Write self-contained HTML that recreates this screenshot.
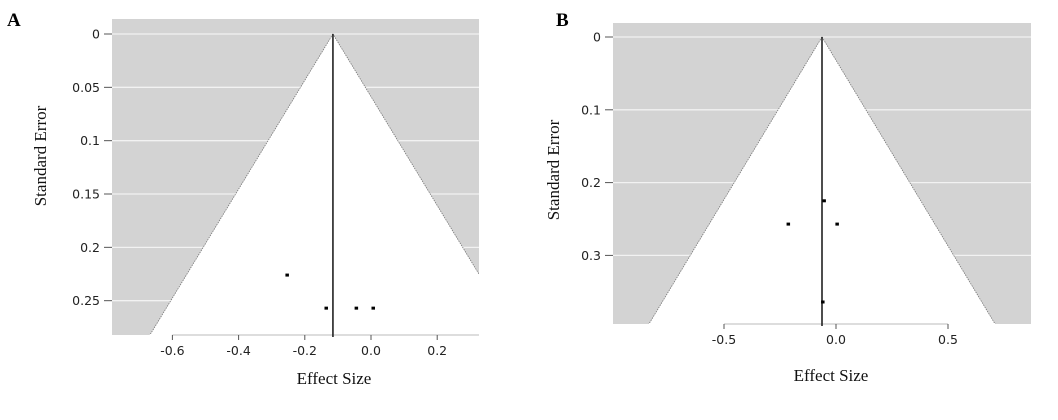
<!DOCTYPE html>
<html><head><meta charset="utf-8">
<style>
html,body{margin:0;padding:0;background:#fff;}
svg{display:block;}
.tick{font-family:"DejaVu Sans","Liberation Sans",sans-serif;font-size:12.5px;fill:#222;}
.ttl{font-family:"Liberation Serif",serif;font-size:17px;fill:#111;}
.pl{font-family:"Liberation Serif",serif;font-size:19px;font-weight:bold;fill:#000;}
</style></head>
<body>
<svg id="chart" width="1058" height="420" viewBox="0 0 1058 420" xmlns="http://www.w3.org/2000/svg"></svg>
<script>
// Panel A data
const aYTicks = [0, 0.05, 0.1, 0.15, 0.2, 0.25];
const aYTickLabels = ["0", "0.05", "0.1", "0.15", "0.2", "0.25"];
const aXTicks = [-0.6, -0.4, -0.2, 0.0, 0.2];
const aXTickLabels = ["-0.6", "-0.4", "-0.2", "0.0", "0.2"];
const aEffects = [-0.254, -0.136, -0.045, 0.006];
const aSE = [0.226, 0.257, 0.257, 0.257];
const aPooled = [-0.115];
// Panel B data
const bYTicks = [0, 0.1, 0.2, 0.3];
const bYTickLabels = ["0", "0.1", "0.2", "0.3"];
const bXTicks = [-0.5, 0.0, 0.5];
const bXTickLabels = ["-0.5", "0.0", "0.5"];
const bEffects = [-0.054, -0.214, 0.004, -0.06];
const bSE = [0.225, 0.257, 0.257, 0.364];
const bPooled = [-0.0625];

const NS = "http://www.w3.org/2000/svg";
const svg = document.getElementById("chart");
function mk(tag, attrs, parent) {
  const e = document.createElementNS(NS, tag);
  for (const k in attrs) e.setAttribute(k, attrs[k]);
  (parent || svg).appendChild(e);
  return e;
}

function panel(cfg) {
  const g = mk("g", {});
  
  
  const sx = v => cfg.x0 + (v - cfg.xv0) * cfg.xs;
  const sy = v => cfg.y0 + v * cfg.ys;
  const L = cfg.left, R = cfg.right, T = cfg.top, B = cfg.bottom;
  const seMax = (B - cfg.y0) / cfg.ys;
  const bg = mk("rect", {x: L, y: T, width: R - L, height: B - T, fill: "#d3d3d3"}, g);
  
  
  cfg.yTicks.forEach(v => {
    const ln = mk("line", {x1: L, x2: R, y1: sy(v), y2: sy(v), stroke: "#f2f2f2", "stroke-width": 1.3}, g);
    
    
  });
  const p = cfg.pooled[0];
  const cx = sx(p), ay = sy(0);
  const lx = sx(p - 1.96 * seMax), rx = sx(p + 1.96 * seMax);
  const cp = "clip" + cfg.name;
  const cl = mk("clipPath", {id: cp}, g);
  mk("rect", {x: L, y: T, width: R - L, height: B - T}, cl);
  const fun = mk("polygon", {points: `${cx},${ay} ${lx},${B} ${rx},${B}`, fill: "#fff", stroke: "#777", "stroke-width": 0.8, "stroke-dasharray": "1.5,1", "clip-path": `url(#${cp})`}, g);
  
  
  mk("line", {x1: lx, x2: rx, y1: B, y2: B, stroke: "#fff", "stroke-width": 2, "clip-path": `url(#${cp})`}, g);
  const xa = mk("line", {x1: sx(cfg.xTicks[0]), x2: cfg.axisEnd, y1: B, y2: B, stroke: "#bbb", "stroke-width": 1}, g);
  
  
  cfg.xTicks.forEach((v, i) => {
    mk("line", {x1: sx(v), x2: sx(v), y1: B, y2: B + 5, stroke: "#555", "stroke-width": 1}, g);
    const t = mk("text", {x: sx(v), y: B + 20, "text-anchor": "middle", class: "tick"}, g);
    t.textContent = cfg.xLabels[i];
    
    
  });
  cfg.yTicks.forEach((v, i) => {
    mk("line", {x1: L - 8, x2: L, y1: sy(v), y2: sy(v), stroke: "#555", "stroke-width": 1}, g);
    const t = mk("text", {x: L - 12, y: sy(v) + 4.5, "text-anchor": "end", class: "tick"}, g);
    t.textContent = cfg.yLabels[i];
    
    
  });
  const pl = mk("line", {x1: cx, x2: cx, y1: ay, y2: B + 2, stroke: "#222", "stroke-width": 1.6}, g);
  
  
  cfg.effects.forEach((e, i) => {
    const r = mk("rect", {x: sx(e) - 1.5, y: sy(cfg.se[i]) - 1.5, width: 3.5, height: 3, fill: "#000"}, g);
    
    
  });
  const xt = mk("text", {x: cfg.xTitle[0], y: cfg.xTitle[1], "text-anchor": "middle", class: "ttl"}, g);
  xt.textContent = "Effect Size";
  
  
  const yt = mk("text", {x: 0, y: 0, "text-anchor": "middle", class: "ttl", transform: `translate(${cfg.yTitle[0]},${cfg.yTitle[1]}) rotate(-90)`}, g);
  yt.textContent = "Standard Error";
  
  
  const lab = mk("text", {x: cfg.label[0], y: cfg.label[1], class: "pl"}, g);
  lab.textContent = cfg.letter;
  
  
}

panel({name: "panel-a", letter: "A", label: [7, 26], left: 112, right: 479, top: 19, bottom: 335,
  x0: 371, xv0: 0, xs: 331, y0: 34, ys: 1066.7, axisEnd: 479,
  yTicks: aYTicks, yLabels: aYTickLabels, xTicks: aXTicks, xLabels: aXTickLabels,
  effects: aEffects, se: aSE, pooled: aPooled, xTitle: [334, 384], yTitle: [46, 156]});
panel({name: "panel-b", letter: "B", label: [556, 26], left: 613, right: 1031, top: 23, bottom: 324,
  x0: 836, xv0: 0, xs: 224, y0: 37, ys: 728, axisEnd: 948,
  yTicks: bYTicks, yLabels: bYTickLabels, xTicks: bXTicks, xLabels: bXTickLabels,
  effects: bEffects, se: bSE, pooled: bPooled, xTitle: [831, 381], yTitle: [559, 170]});
</script>
</body></html>
